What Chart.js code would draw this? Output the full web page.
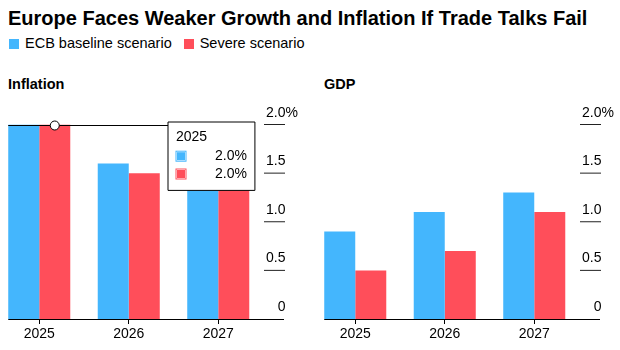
<!DOCTYPE html>
<html lang="en">
  <head>
    <meta charset="UTF-8" />
    <title>Europe Faces Weaker Growth and Inflation If Trade Talks Fail</title>
  </head>
  <style>
    * {
      margin: 0;
      padding: 0;
      font-family: "Liberation Sans", Arial, sans-serif;
    }
    body {
      width: 620px;
      height: 350px;
      background: #fff;
      position: relative;
      overflow: hidden;
    }
    #title {
      position: absolute;
      left: 8px;
      top: 6px;
      font-size: 20px;
      line-height: 24px;
      font-weight: bold;
      color: #000;
      white-space: nowrap;
    }
    #legend {
      position: absolute;
      left: 9px;
      top: 35px;
      font-size: 14.5px;
      line-height: 17px;
      color: #000;
      white-space: nowrap;
      display: flex;
      align-items: center;
    }
    #legend .sw {
      display: inline-block;
      width: 10px;
      height: 10px;
      margin-right: 6px;
    }
    #legend .item {
      display: flex;
      align-items: center;
      margin-right: 12px;
    }
    .sub {
      position: absolute;
      top: 75px;
      font-size: 14.5px;
      line-height: 18px;
      font-weight: bold;
      color: #000;
    }
    canvas {
      position: absolute;
      top: 90px;
    }
  </style>
  <body>
    <div id="title">Europe Faces Weaker Growth and Inflation If Trade Talks Fail</div>
    <div id="legend">
      <div class="item"><span class="sw" style="background: #44b6fd"></span>ECB baseline scenario</div>
      <div class="item"><span class="sw" style="background: #ff4e5a"></span>Severe scenario</div>
    </div>
    <div class="sub" style="left: 8px">Inflation</div>
    <div class="sub" style="left: 324px">GDP</div>

    <canvas id="inflationChart" width="320" height="255" style="left: -20px"></canvas>
    <canvas id="gdpChart" width="320" height="255" style="left: 296px"></canvas>

    <script src="https://cdn.jsdelivr.net/npm/chart.js"></script>

    <script>
      // data block
      const years = ["2025", "2026", "2027"];
      const seriesNames = ["ECB baseline scenario", "Severe scenario"];
      const inflationBaseline = [2.0, 1.6, 2.0];
      const inflationSevere = [2.0, 1.5, 1.8];
      const gdpBaseline = [0.9, 1.1, 1.3];
      const gdpSevere = [0.5, 0.7, 1.1];
      const yTicks = [0, 0.5, 1.0, 1.5, 2.0];

      const blue = "#44b6fd";
      const red = "#ff4e5a";

      Chart.defaults.font.family = '"Liberation Sans", Arial, sans-serif';
      Chart.defaults.color = "#000";

      // tooltip sits at a fixed spot inside the inflation panel
      Chart.Tooltip.positioners.fixedBox = function () {
        return { x: 188, y: 32 };
      };

      // baseline, right-hand tick marks/labels and hover marker
      const panelAxes = {
        id: "panelAxes",
        afterDatasetsDraw(chart, args, opts) {
          const { ctx, chartArea, scales } = chart;
          const y = scales.y;
          const first = chart.getDatasetMeta(0).data[0];
          const lastMeta = chart.getDatasetMeta(1).data;
          const last = lastMeta[lastMeta.length - 1];
          const left = first.x - first.width / 2;
          const right = chartArea.right;
          ctx.save();

          // baseline
          ctx.strokeStyle = "#000";
          ctx.lineWidth = 1;
          ctx.beginPath();
          ctx.moveTo(left, Math.round(y.getPixelForValue(0)) + 0.5);
          ctx.lineTo(right + 21, Math.round(y.getPixelForValue(0)) + 0.5);
          ctx.stroke();

          // y ticks
          ctx.font = "14px " + Chart.defaults.font.family;
          ctx.fillStyle = "#000";
          ctx.textBaseline = "alphabetic";
          yTicks.forEach((v, i) => {
            const py = y.getPixelForValue(v);
            if (v !== 0) {
              ctx.strokeStyle = "#222";
              ctx.beginPath();
              ctx.moveTo(right + 1, py);
              ctx.lineTo(right + 22, py);
              ctx.stroke();
            }
            const txt = v === 0 ? "0" : v.toFixed(1);
            ctx.textAlign = "right";
            ctx.fillText(txt, right + 22.5, py - 8);
            if (i === yTicks.length - 1) {
              ctx.textAlign = "left";
              ctx.fillText("%", right + 22.5, py - 8);
            }
          });

          // hover marker
          if (opts.marker) {
            const el = chart.getDatasetMeta(opts.marker.datasetIndex).data[opts.marker.index];
            ctx.strokeStyle = "#000";
            ctx.beginPath();
            ctx.moveTo(left, Math.round(el.y) + 0.5);
            ctx.lineTo(last.x + last.width / 2, Math.round(el.y) + 0.5);
            ctx.stroke();
            ctx.beginPath();
            ctx.arc(el.x, Math.round(el.y) + 0.5, 4.5, 0, Math.PI * 2);
            ctx.fillStyle = "#fff";
            ctx.fill();
            ctx.stroke();
          }
          ctx.restore();
        }
      };

      function makeConfig(baseline, severe, marker) {
        return {
          type: "bar",
          data: {
            labels: years,
            datasets: [
              { label: seriesNames[0], data: baseline, backgroundColor: blue },
              { label: seriesNames[1], data: severe, backgroundColor: red }
            ]
          },
          options: {
            responsive: false,
            animation: false,
            events: [],
            layout: { padding: { top: 34.5, left: 14.5, right: 37, bottom: 0 } },
            datasets: {
              bar: { barPercentage: 1, categoryPercentage: 0.693, borderWidth: 0 }
            },
            scales: {
              x: {
                offset: true,
                grid: {
                  display: true,
                  drawOnChartArea: false,
                  drawTicks: true,
                  tickLength: 5,
                  tickColor: "#000",
                  offset: false
                },
                border: { display: false },
                ticks: { color: "#000", font: { size: 14 }, padding: 2, maxRotation: 0 },
                afterFit(scale) {
                  scale.height = 26;
                }
              },
              y: { display: false, min: 0, max: 2.0 }
            },
            plugins: {
              legend: { display: false },
              panelAxes: { marker },
              tooltip: {
                enabled: true,
                position: "fixedBox",
                xAlign: "left",
                yAlign: "top",
                caretSize: 0,
                caretPadding: 0,
                cornerRadius: 0,
                backgroundColor: "#fff",
                borderColor: "#000",
                borderWidth: 1,
                titleColor: "#000",
                bodyColor: "#000",
                titleFont: { size: 14, weight: "normal" },
                bodyFont: { size: 14 },
                titleMarginBottom: 2,
                bodySpacing: 1,
                bodyAlign: "right",
                padding: { top: 7, bottom: 8, left: 8, right: 8 },
                boxWidth: 10,
                boxHeight: 10,
                boxPadding: 27,
                callbacks: {
                  label: (c) => c.parsed.y.toFixed(1) + "%",
                  labelColor: (c) => ({
                    borderColor: c.dataset.backgroundColor,
                    backgroundColor: c.dataset.backgroundColor,
                    borderWidth: 1
                  })
                }
              }
            }
          },
          plugins: [panelAxes]
        };
      }

      // init render block
      const inflationChart = new Chart(
        document.getElementById("inflationChart"),
        makeConfig(inflationBaseline, inflationSevere, { datasetIndex: 1, index: 0 })
      );
      const gdpChart = new Chart(
        document.getElementById("gdpChart"),
        makeConfig(gdpBaseline, gdpSevere, null)
      );

      inflationChart.tooltip.setActiveElements(
        [
          { datasetIndex: 0, index: 0 },
          { datasetIndex: 1, index: 0 }
        ],
        { x: 0, y: 0 }
      );
      inflationChart.update();
    </script>
  </body>
</html>
